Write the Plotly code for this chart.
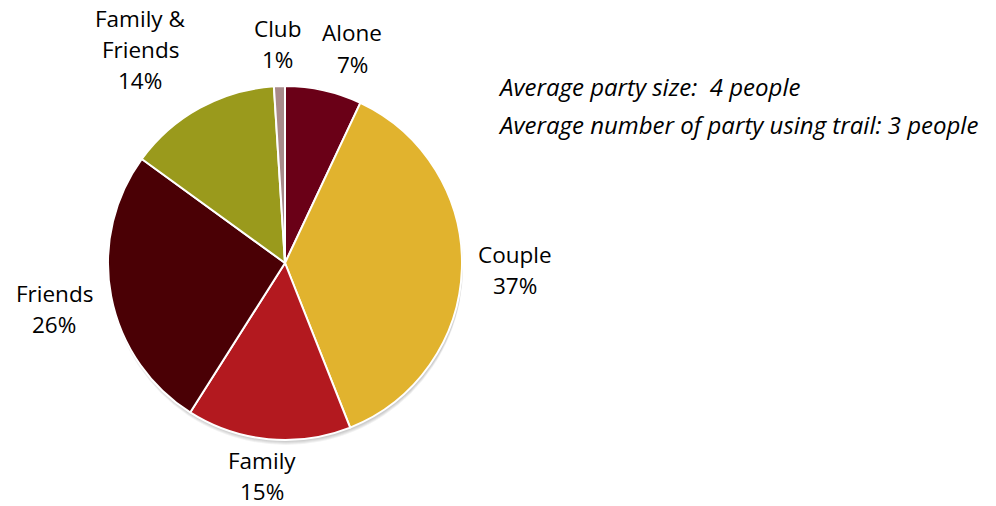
import plotly.graph_objects as go

# Party composition of trail users
categories = ["Alone", "Couple", "Family", "Friends", "Family & Friends", "Club"]
shares = [7, 37, 15, 26, 14, 1]
colors = ["#6A0017", "#E1B32E", "#B3191F", "#4A0005", "#9A9A1C", "#A88A8A"]
notes = ["Average party size:  4 people",
         "Average number of party using trail: 3 people"]

W, H = 996, 506
FONT = "Open Sans"
FS = 22.5
NOTE_FS = 24

# label anchor (pixel centre of first line) for each slice
label_pos = {
    "Alone": (352, 33),
    "Couple": (515, 254),
    "Family": (262, 460),
    "Friends": (54, 293),
    "Family & Friends": (140, 18),
    "Club": (277, 28),
}
LINE = 31.5

fig = go.Figure()

# soft shadow under the pie
cx, cy, r = 285, 263, 177
for i in range(4):
    off = 2 + i
    fig.add_shape(type="circle", xref="paper", yref="paper",
                  x0=(cx - r + 1) / W, x1=(cx + r + 1) / W,
                  y0=1 - (cy + r + off) / H, y1=1 - (cy - r + off) / H,
                  line=dict(width=0), fillcolor="rgba(0,0,0,0.05)", layer="below")

fig.add_trace(go.Pie(
    labels=categories,
    values=shares,
    marker=dict(colors=colors, line=dict(color="white", width=2)),
    sort=False,
    direction="clockwise",
    rotation=0,
    textinfo="none",
    hoverinfo="label+percent",
    showlegend=False,
    domain=dict(x=[(cx - r) / W, (cx + r) / W], y=[1 - (cy + r) / H, 1 - (cy - r) / H]),
))

total = sum(shares)
for name, val in zip(categories, shares):
    x0, y0 = label_pos[name]
    lines = name.replace(" & ", " &\n").split("\n") + [f"{round(val / total * 100)}%"]
    for k, line in enumerate(lines):
        fig.add_annotation(x=x0 / W, y=1 - (y0 + k * LINE) / H, xref="paper", yref="paper",
                           text=line, showarrow=False, xanchor="center", yanchor="middle",
                           borderpad=0,
                           font=dict(family=FONT, size=FS, color="#000000"))

for k, t in enumerate(notes):
    fig.add_annotation(x=497 / W, y=1 - (86 + k * 38) / H, xref="paper", yref="paper",
                       text=f"<i>{t}</i>", showarrow=False, xanchor="left", yanchor="middle",
                       borderpad=0,
                       font=dict(family=FONT, size=NOTE_FS, color="#000000"))

fig.update_layout(width=W, height=H, margin=dict(l=0, r=0, t=0, b=0),
                  paper_bgcolor="white", plot_bgcolor="white")

fig.write_html("out.html")
